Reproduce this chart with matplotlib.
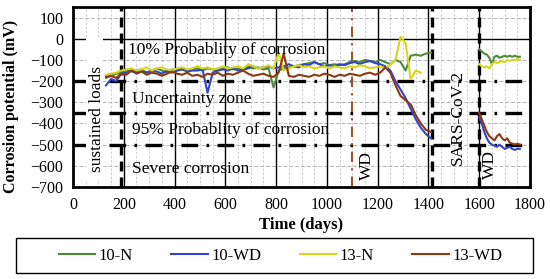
import numpy as np
import matplotlib
matplotlib.use('Agg')
import matplotlib.pyplot as plt
from matplotlib.patches import Rectangle

plt.rcParams['font.family'] = ['Liberation Serif', 'DejaVu Serif']

# time axis (days)
days1 = np.arange(130, 1411, 20)
days2 = np.arange(1600, 1761, 10)

# corrosion potential (mV), first period
n10_1 = [-185, -175, -165, -160, -150, -155, -150, -145, -160, -150, -140, -150, -160, -145, -150, -140,
         -150, -145, -140, -150, -140, -145, -150, -140, -135, -145, -140, -150, -130, -140, -135, -145,
         -140, -230, -150, -140, -135, -130, -125, -120, -115, -110, -120, -115, -125, -120, -125, -120,
         -110, -105, -110, -100, -105, -110, -100, -110, -120, -100, -110, -150, -80, -75, -80, -70, -65]
wd10_1 = [-220, -190, -200, -165, -160, -150, -165, -155, -160, -150, -155, -165, -150, -160, -150, -145,
          -155, -150, -150, -145, -255, -160, -150, -145, -150, -140, -150, -145, -140, -130, -140, -135,
          -130, -140, -135, -130, -120, -130, -135, -120, -125, -110, -120, -130, -125, -130, -120, -125,
          -115, -110, -120, -110, -105, -115, -120, -130, -150, -200, -240, -280, -330, -380, -420, -450, -470]
n13_1 = [-170, -165, -160, -150, -145, -140, -150, -145, -135, -150, -140, -135, -145, -150, -140, -135,
         -145, -140, -130, -140, -135, -145, -140, -130, -140, -135, -130, -140, -120, -130, -140, -135,
         -125, -140, -65, -150, -140, -130, -125, -135, -130, -140, -135, -130, -140, -130, -135, -140,
         -130, -135, -125, -130, -140, -135, -130, -140, -120, -100, 10, -20, -190, -150, -160, np.nan, np.nan]
wd13_1 = [-180, -175, -185, -165, -170, -150, -160, -155, -170, -160, -165, -175, -165, -155, -165, -170,
          -160, -175, -170, -180, -165, -170, -160, -175, -165, -170, -160, -150, -165, -175, -170, -165,
          -175, -180, -160, -70, -175, -180, -170, -175, -180, -170, -175, -165, -170, -180, -170, -175,
          -165, -170, -175, -165, -160, -170, -160, -135, -160, -220, -270, -290, -310, -360, -400, -430, -440]

# second period (after SARS-CoV-2 break)
n10_2 = [-50, -60, -70, -75, -90, -120, -85, -80, -90, -85, -80, -85, -80, -85, -80, -85, -85]
wd10_2 = [-370, -400, -440, -470, -490, -500, -505, -510, -500, -510, -520, -515, -510, -520, -525, -520, -520]
n13_2 = [-120, -130, -135, -130, -140, -120, -110, -115, -110, -105, -110, -100, -105, -100, -100, -95, -100]
wd13_2 = [-350, -380, -410, -440, -460, -470, -480, -460, -450, -470, -480, -470, -490, -495, -500, -495, -500]

labels = ['10-N', '10-WD', '13-N', '13-WD']
colors = ['#4f8a3c', '#3344cc', '#d6d61a', '#8b3a12']

fig = plt.figure(figsize=(5.5, 2.79), dpi=100)
ax = fig.add_axes([73/550, 92/279, 457/550, 180/279])

# grid
for d in np.arange(50, 1800, 50):
    if d % 200:
        ax.axvline(d, color='#c8c8c8', lw=0.6, ls=(0, (3, 2)), zorder=0)
for d in range(200, 1800, 200):
    ax.axvline(d, color='black', lw=1.0, zorder=1)
for v in range(-600, 101, 100):
    if v != 0:
        ax.axhline(v, color='#b4b4b4', lw=0.7, ls=(0, (4, 2)), zorder=0)
ax.axhline(0, color='black', lw=1.0, zorder=1)

# threshold lines
for v in [-200, -350, -500]:
    ax.axhline(v, color='black', lw=2.4, ls=(0, (5, 2.5, 0.8, 2.5)), zorder=2)
for d in [190, 1415, 1600]:
    ax.axvline(d, color='black', lw=2.4, ls=(0, (3, 1.8)), zorder=2)
ax.axvline(1100, color='#a0522d', lw=1.5, ls=(0, (5, 3, 1, 3)), zorder=2)

ser1 = [n10_1, wd10_1, n13_1, wd13_1]
ser2 = [n10_2, wd10_2, n13_2, wd13_2]
for s1, s2, lab, c in zip(ser1, ser2, labels, colors):
    ax.plot(days1, s1, color=c, lw=1.5, label=lab, zorder=4)
    ax.plot(days2, s2, color=c, lw=1.5, zorder=4)

# white box behind "sustained loads"
ax.add_patch(Rectangle((50, -670), 70, 680, facecolor='white', edgecolor='none', zorder=3))

tk = dict(fontsize=12.5, zorder=5)
ax.text(217, -52, '10% Probablity of corrosion', va='center', ha='left', **tk)
ax.text(232, -286, 'Uncertainty zone', va='center', ha='left', **tk)
ax.text(232, -433, '95% Probablity of corrosion', va='center', ha='left', **tk)
ax.text(232, -614, 'Severe corrosion', va='center', ha='left', **tk)
ax.text(96, -381, 'sustained loads', rotation=90, va='center', ha='center', **tk)
ax.text(1157, -600, 'WD', rotation=90, va='center', ha='center', **tk)
ax.text(1514, -370, 'SARS-CoV-2', rotation=90, va='center', ha='center', **tk)
ax.text(1642, -592, 'WD', rotation=90, va='center', ha='center', **tk)

ax.set_xlim(0, 1800)
ax.set_ylim(-700, 150)
ax.set_xticks(range(0, 1801, 200))
ax.set_yticks(range(-700, 101, 100))
ax.tick_params(length=0, labelsize=11.5, pad=7)
for sp in ax.spines.values():
    sp.set_linewidth(2.0)
    sp.set_zorder(6)

ax.set_xlabel('Time (days)', fontsize=12, fontweight='bold', labelpad=3)
ax.set_ylabel('Corrosion potential (mV)', fontsize=11.5, fontweight='bold')
ax.yaxis.set_label_coords(-0.118, 0.45)

# legend with wide frame
fig.patches.append(Rectangle((16/550, 6/279), 517/550, 35/279, transform=fig.transFigure,
                             facecolor='none', edgecolor='black', lw=1.0))
h, l = ax.get_legend_handles_labels()
fig.legend(h, l, loc='center', bbox_to_anchor=(0.51, 23.5/279), ncol=4, frameon=False,
           fontsize=12, handlelength=2.2, handletextpad=0.2, columnspacing=2.3)

fig.savefig('out.png', dpi=100)
